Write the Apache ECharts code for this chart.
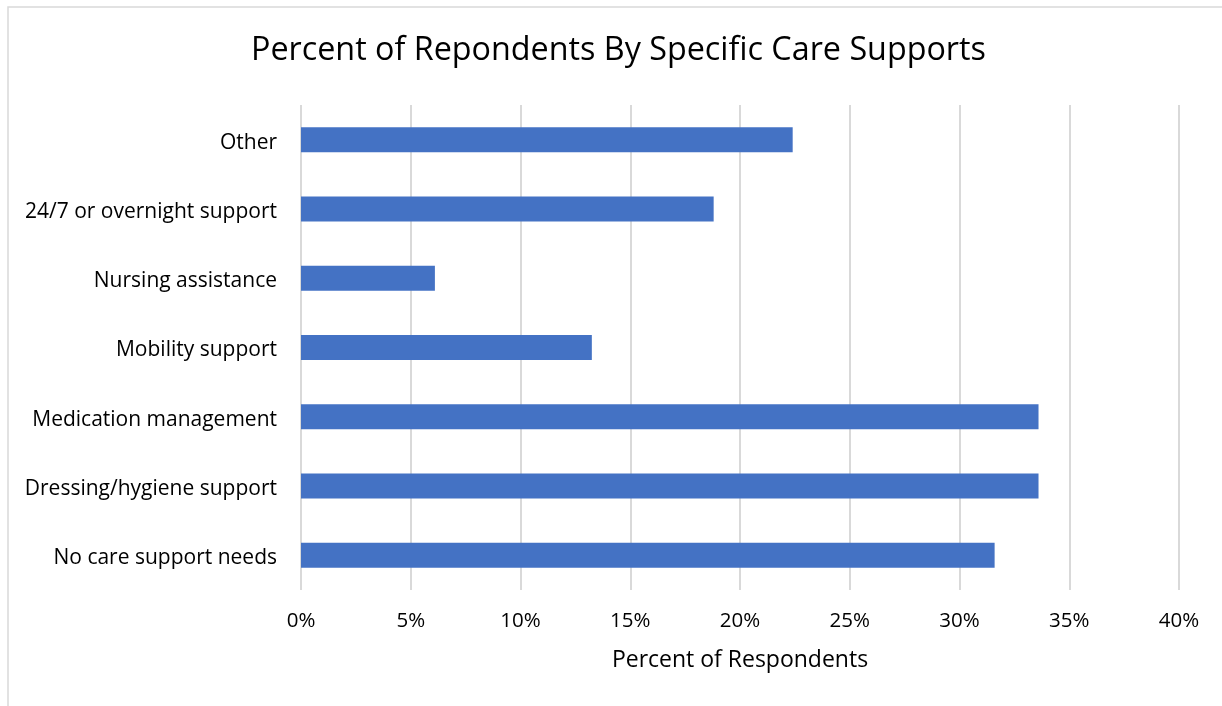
<!DOCTYPE html>
<html>
<head>
<meta charset="utf-8">
<script src="https://cdn.jsdelivr.net/npm/echarts@6/dist/echarts.min.js"></script>
<style>
  html, body { margin: 0; padding: 0; background: #fff; }
  #chart { width: 1222px; height: 706px; }
</style>
</head>
<body>
<div id="chart"></div>
<script>
// Care support categories, listed bottom to top
const categories = [
  'No care support needs',
  'Dressing/hygiene support',
  'Medication management',
  'Mobility support',
  'Nursing assistance',
  '24/7 or overnight support',
  'Other'
];
// Share of respondents needing each support (percent)
const percents = [31.6, 33.6, 33.6, 13.25, 6.1, 18.8, 22.4];
const xTicks = [0, 5, 10, 15, 20, 25, 30, 35, 40];

const font = '"Open Sans", Lato, sans-serif';
const chart = echarts.init(document.getElementById('chart'));
chart.setOption({
  animation: false,
  backgroundColor: '#ffffff',
  graphic: [{
    type: 'rect',
    shape: { x: 8, y: 7, width: 1230, height: 720 },
    style: { fill: 'none', stroke: '#d9d9d9', lineWidth: 1.5 },
    silent: true,
    z: -1
  }],
  title: {
    text: 'Percent of Repondents By Specific Care Supports',
    left: 246,
    top: 30,
    textStyle: { fontFamily: font, fontSize: 32.3, fontWeight: 'normal', color: '#000000' }
  },
  grid: { left: 301, right: 43, top: 105, bottom: 116, containLabel: false },
  xAxis: {
    type: 'value',
    min: xTicks[0],
    max: xTicks[xTicks.length - 1],
    interval: 5,
    name: 'Percent of Respondents',
    nameLocation: 'middle',
    nameGap: 59,
    nameTextStyle: { fontFamily: font, fontSize: 23, color: '#000000' },
    axisLine: { show: false },
    axisTick: { show: false },
    axisLabel: {
      formatter: v => v + '%',
      fontFamily: font, fontSize: 20.5, color: '#000000', margin: 21
    },
    splitLine: { show: true, lineStyle: { color: '#d9d9d9', width: 2 } }
  },
  yAxis: {
    type: 'category',
    data: categories,
    axisLine: { show: false },
    axisTick: { show: false },
    axisLabel: {
      fontFamily: font, fontSize: 21, color: '#000000', margin: 24,
      verticalAlign: 'top', lineHeight: 6
    }
  },
  series: [{
    type: 'bar',
    data: percents,
    barWidth: 25,
    itemStyle: { color: '#4472c4' }
  }]
});
</script>
</body>
</html>
